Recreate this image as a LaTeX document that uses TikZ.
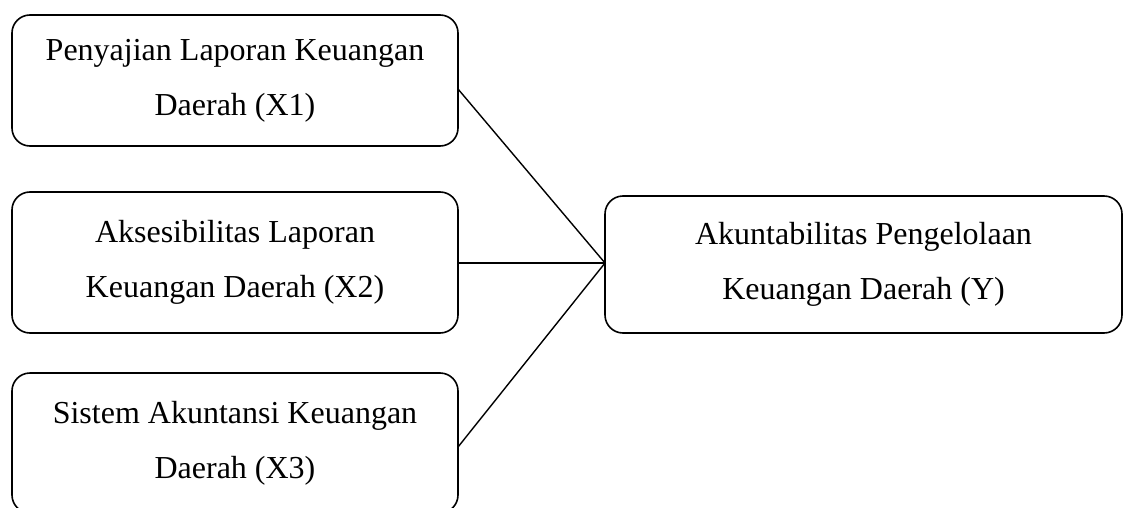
\documentclass[tikz,border=0pt]{standalone}
\usepackage{fontspec}
\setmainfont{Liberation Serif}
\begin{document}
\begin{tikzpicture}[x=1pt,y=-1pt,
  varbox/.style={draw=black, line width=1.6pt, rounded corners=18pt, inner sep=0pt, outer sep=0pt,
    align=center, font=\fontsize{32}{55}\selectfont},
  link/.style={draw=black, line width=1.4pt}]
\useasboundingbox (0,0) rectangle (1123,508);
\node[varbox, minimum width=446pt, minimum height=131pt] (x1) at (235,80.5)
  {Penyajian Laporan Keuangan\\Daerah (X1)};
\node[varbox, minimum width=446pt, minimum height=141pt] (x2) at (235,262.5)
  {Aksesibilitas Laporan\\Keuangan Daerah (X2)};
\node[varbox, minimum width=446pt, minimum height=140pt] (x3) at (235,443)
  {Sistem Akuntansi Keuangan\\Daerah (X3)};
\node[varbox, minimum width=517pt, minimum height=137pt] (y) at (863.5,264.5)
  {Akuntabilitas Pengelolaan\\Keuangan Daerah (Y)};
\draw[link] ([yshift=-8.5pt]x1.east) -- ([yshift=1.5pt]y.west);
\draw[link] ([yshift=-0.5pt]x2.east) -- ([yshift=1.5pt]y.west);
\draw[link] ([yshift=-4pt]x3.east) -- ([yshift=1.5pt]y.west);
\end{tikzpicture}
\end{document}
